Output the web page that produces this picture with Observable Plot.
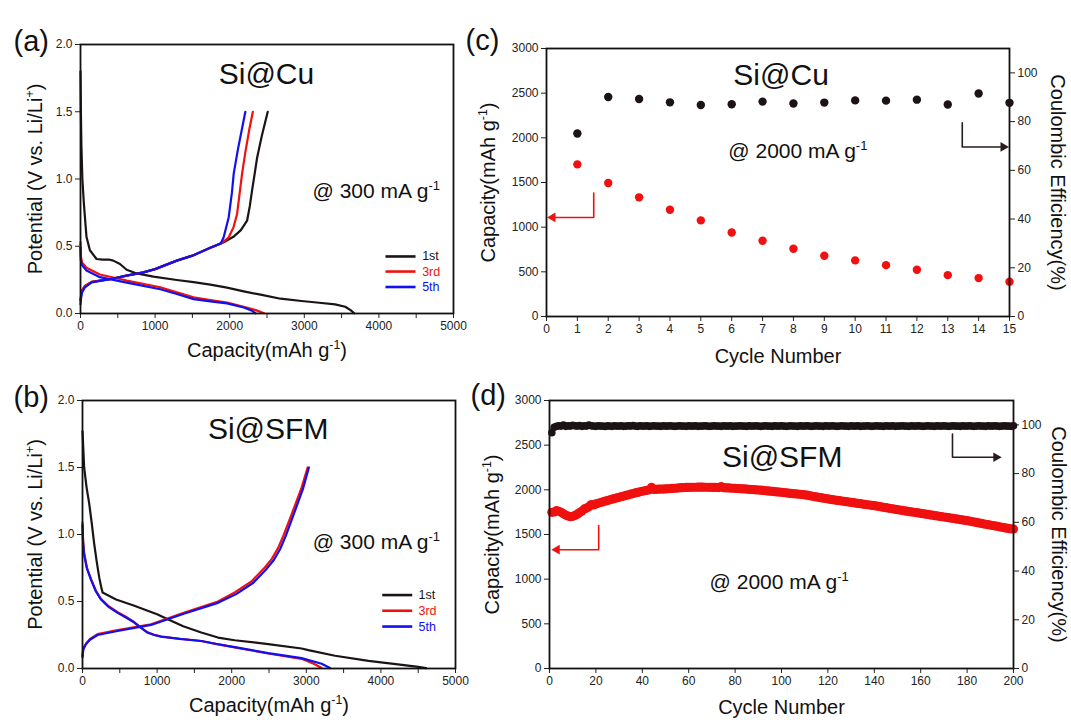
<!DOCTYPE html>
<html><head><meta charset="utf-8">
<script src="https://cdn.jsdelivr.net/npm/d3@7"></script>
<script src="https://cdn.jsdelivr.net/npm/@observablehq/plot@0.6"></script>
<style>
body{margin:0;background:#fff;}
#fig{position:relative;width:1071px;height:724px;overflow:hidden;background:#fff;}
#fig svg{position:absolute;}
</style></head><body><div id="fig"></div>
<script>
// ---------------- DATA ----------------
// (a) Si@Cu galvanostatic profiles [capacity mAh/g, potential V]
const a1Discharge = [[0,1.80],[5,1.5],[12,1.25],[25,1.0],[45,0.82],[80,0.57],[126,0.47],[215,0.405],[300,0.40],[390,0.40],[440,0.393],[529,0.368],[619,0.325],[753,0.298],[978,0.274],[1291,0.249],[1516,0.233],[1740,0.215],[1964,0.192],[2188,0.165],[2413,0.14],[2682,0.11],[2964,0.093],[3200,0.08],[3413,0.068],[3548,0.05],[3620,0.025],[3670,0.002]];
const a1Charge = [[0,0.1],[20,0.17],[60,0.205],[150,0.235],[395,0.255],[600,0.28],[843,0.306],[1000,0.33],[1291,0.393],[1500,0.43],[1740,0.488],[1920,0.53],[2050,0.57],[2150,0.62],[2233,0.69],[2270,0.8],[2300,0.915],[2335,1.04],[2368,1.16],[2430,1.32],[2510,1.5]];
const a3Discharge = [[0,0.53],[4,0.43],[20,0.38],[80,0.34],[260,0.29],[620,0.245],[1070,0.195],[1291,0.157],[1516,0.12],[1740,0.10],[1964,0.082],[2188,0.05],[2350,0.025],[2460,0.002]];
const a3Charge = [[0,0.1],[15,0.165],[60,0.205],[150,0.235],[395,0.255],[600,0.28],[843,0.306],[1000,0.33],[1291,0.393],[1500,0.43],[1740,0.488],[1900,0.525],[1987,0.567],[2050,0.64],[2099,0.74],[2130,0.88],[2166,1.04],[2210,1.2],[2260,1.36],[2310,1.5]];
const a5Discharge = [[0,0.49],[4,0.4],[20,0.36],[80,0.32],[260,0.27],[620,0.23],[1070,0.18],[1291,0.145],[1516,0.107],[1740,0.09],[1964,0.075],[2188,0.045],[2300,0.02],[2345,0.002]];
const a5Charge = [[0,0.07],[15,0.15],[60,0.195],[150,0.232],[395,0.255],[600,0.28],[843,0.306],[1000,0.33],[1291,0.393],[1500,0.43],[1740,0.488],[1880,0.52],[1919,0.567],[1987,0.716],[2030,0.9],[2054,1.04],[2110,1.22],[2160,1.36],[2210,1.5]];

// (b) Si@SFM galvanostatic profiles
const b1Discharge = [[0,1.77],[22,1.5],[55,1.35],[90,1.23],[125,1.08],[157,0.93],[190,0.8],[224,0.68],[250,0.61],[269,0.567],[450,0.515],[695,0.468],[900,0.425],[1000,0.405],[1143,0.368],[1350,0.315],[1592,0.269],[1816,0.231],[2040,0.211],[2489,0.182],[2937,0.149],[3027,0.137],[3386,0.095],[3834,0.057],[4283,0.027],[4500,0.012],[4605,0.003]];
const b3Discharge = [[0,1.09],[8,0.95],[22,0.86],[60,0.75],[112,0.67],[180,0.58],[247,0.52],[350,0.465],[471,0.42],[600,0.38],[695,0.345],[785,0.305],[870,0.27],[960,0.252],[1054,0.239],[1300,0.222],[1592,0.205],[1800,0.182],[2040,0.158],[2489,0.112],[2937,0.072],[3100,0.035],[3200,0.005]];
const b5Discharge = [[0,1.07],[8,0.94],[22,0.85],[60,0.745],[112,0.665],[180,0.575],[247,0.515],[350,0.46],[471,0.415],[600,0.375],[695,0.343],[785,0.303],[870,0.268],[960,0.25],[1054,0.238],[1300,0.221],[1592,0.205],[1800,0.183],[2040,0.16],[2489,0.115],[2937,0.077],[3206,0.035],[3318,0.003]];
const b3Charge = [[0,0.095],[10,0.15],[45,0.185],[100,0.22],[202,0.256],[471,0.286],[919,0.33],[1368,0.418],[1816,0.50],[2040,0.567],[2265,0.65],[2444,0.754],[2540,0.82],[2623,0.9],[2700,1.0],[2803,1.15],[2937,1.35],[3018,1.5]];
const b5Charge = [[0,0.085],[10,0.14],[45,0.18],[100,0.215],[202,0.25],[471,0.28],[919,0.325],[1368,0.41],[1816,0.49],[2060,0.555],[2290,0.64],[2470,0.745],[2565,0.81],[2648,0.89],[2725,0.99],[2825,1.14],[2955,1.34],[3035,1.5]];

// (c) Si@Cu cycling
const cyclesC = [1,2,3,4,5,6,7,8,9,10,11,12,13,14,15];
const capacityC = [1703,1494,1334,1195,1076,941,848,758,680,628,575,523,463,430,389];
const ceC = [75.1,90.1,89.3,87.9,86.8,87.1,88.2,87.4,87.8,88.7,88.6,89.0,87.0,91.5,87.7];

// (d) Si@SFM cycling (cycles 1..200)
const capacityD = [
1748,1752,1767,1760,1748,1733,1718,1707,1700,1703,
1714,1728,1745,1762,1786,1796,1812,1835,1830,1842,
1850,1858,1866,1873,1880,1888,1895,1902,1909,1916,
1923,1930,1937,1944,1951,1958,1965,1971,1978,1984,
1990,1995,2000,2028,2004,2006,2007,2008,2009,2010,
2012,2014,2016,2018,2020,2022,2024,2025,2027,2028,
2028,2029,2029,2030,2030,2030,2029,2029,2028,2028,
2027,2026,2025,2036,2024,2023,2021,2020,2018,2017,
2015,2013,2011,2010,2008,2006,2004,2002,2000,1998,
1996,1993,1990,1988,1985,1983,1980,1977,1975,1972,
1969,1966,1963,1960,1957,1955,1953,1950,1947,1944,
1940,1935,1930,1925,1921,1916,1912,1907,1903,1898,
1894,1890,1886,1882,1879,1875,1871,1867,1863,1860,
1856,1852,1848,1845,1841,1837,1833,1830,1826,1823,
1818,1814,1809,1805,1800,1796,1791,1787,1782,1778,
1774,1770,1765,1761,1757,1753,1749,1745,1741,1737,
1733,1729,1725,1720,1716,1712,1708,1704,1700,1696,
1692,1688,1684,1680,1675,1671,1667,1663,1659,1655,
1650,1645,1640,1635,1630,1625,1620,1615,1610,1605,
1601,1596,1591,1586,1581,1576,1571,1566,1563,1561];
const ceD = [
96.8,99.0,99.4,99.6,99.5,99.9,99.4,99.6,99.5,99.8,
99.6,99.5,99.7,99.4,99.6,99.5,99.9,99.6,99.5,99.4,
99.6,99.5,99.5,99.3,99.6,99.5,99.4,99.6,99.5,99.5,
99.6,99.4,99.5,99.6,99.5,99.7,99.5,99.4,99.6,99.5,
99.5,99.6,99.4,99.5,99.6,99.5,99.5,99.4,99.6,99.5,
99.5,99.6,99.5,99.4,99.5,99.6,99.5,99.5,99.4,99.6,
99.5,99.5,99.6,99.4,99.5,99.5,99.6,99.5,99.4,99.5,
99.6,99.5,99.5,99.4,99.6,99.5,99.5,99.6,99.4,99.5,
99.5,99.6,99.5,99.5,99.4,99.6,99.5,99.5,99.6,99.5,
99.4,99.5,99.6,99.5,99.5,99.4,99.6,99.5,99.5,99.6,
99.5,99.4,99.5,99.6,99.5,99.5,99.4,99.6,99.5,99.5,
99.6,99.5,99.4,99.5,99.6,99.5,99.5,99.4,99.6,99.5,
99.5,99.6,99.5,99.4,99.5,99.6,99.5,99.5,99.4,99.6,
99.5,99.5,99.6,99.4,99.5,99.5,99.6,99.5,99.4,99.5,
99.6,99.5,99.5,99.4,99.6,99.5,99.5,99.6,99.4,99.5,
99.5,99.6,99.5,99.5,99.4,99.6,99.5,99.5,99.6,99.5,
99.4,99.5,99.6,99.5,99.5,99.4,99.6,99.5,99.5,99.6,
99.5,99.4,99.5,99.6,99.5,99.5,99.4,99.6,99.5,99.5,
99.6,99.5,99.4,99.5,99.6,99.5,99.5,99.4,99.6,99.5,
99.5,99.6,99.5,99.4,99.5,99.6,99.5,99.5,99.4,99.6];

// ticks / labels
const capTicks = [0,500,1000,1500,2000,2500,3000,3500,4000,4500,5000];
const potTicks = [0,0.5,1.0,1.5,2.0];
const cycleTicksC = [0,1,2,3,4,5,6,7,8,9,10,11,12,13,14,15];
const cycleTicksD = [0,20,40,60,80,100,120,140,160,180,200];
const capTicksCD = [0,500,1000,1500,2000,2500,3000];
const ceTicks = [0,20,40,60,80,100];
const legendLabels = ["1st","3rd","5th"];
const panelLabels = ["(a)","(b)","(c)","(d)"];

// annotation arrows [x, y]; last point = arrow head
const arrowCRed = [[1.53,1382],[1.53,1109],[0.2,1109]];
const arrowCBlack = [[13.47,79.5],[13.47,69.6],[14.8,69.6]];
const arrowDRed = [[21.2,1599],[21.2,1330],[3.2,1330]];
const arrowDBlack = [[173.7,96.2],[173.7,86.7],[192.5,86.7]];

// ---------------- DRAW ----------------
const FONT = '"Liberation Sans", Arial, Helvetica, sans-serif';
const BLACK = "#1c1414", RED = "#f01010", BLUE = "#1010f0", ARROWK = "#2a1c1c";
const seriesColors = [BLACK, RED, BLUE];
const baseStyle = {fontFamily: FONT, fontSize: "12px", color: "#222", background: "none", overflow: "visible"};
const fig = document.getElementById("fig");
function place(svg, left, top) { svg.style.left = left + "px"; svg.style.top = top + "px"; fig.appendChild(svg); }
const P = d => d[0], V = d => d[1];
const curve = (data, color) => Plot.line(data, {x: P, y: V, stroke: color, strokeWidth: 2.2, strokeLinejoin: "round"});
const txt = (s, o) => Plot.text([s], {text: d => d, fill: "#111", ...o});
const frame = () => Plot.frame({stroke: "#111", strokeWidth: 1.8});
const capFmt = d => d % 1000 === 0 ? String(d) : "";
const plain = d => String(d);
function arrowMarks(pts, color, dir) {
  return [
    Plot.line(pts, {x: P, y: V, stroke: color, strokeWidth: 1.6}),
    Plot.dot([pts[pts.length - 1]], {x: P, y: V, symbol: "triangle", r: 3.6, fill: color, rotate: dir})
  ];
}

function legendMarks(x1, x2, xt, ys) {
  return [
    Plot.link(legendLabels, {x1: x1, x2: x2, y1: (d, i) => ys[i], y2: (d, i) => ys[i], stroke: (d, i) => seriesColors[i], strokeWidth: 2.6}),
    Plot.text(legendLabels, {text: d => d, x: xt, y: (d, i) => ys[i], fill: (d, i) => seriesColors[i], textAnchor: "start", fontSize: 12.5})
  ];
}

// Panel (a)
place(Plot.plot({
  width: 470, height: 370, marginLeft: 80, marginRight: 17, marginTop: 44, marginBottom: 57,
  x: {domain: [0, 5000]}, y: {domain: [0, 2]}, color: {type: "identity"}, style: baseStyle,
  marks: [
    Plot.axisX({ticks: capTicks, tickFormat: capFmt, tickSize: 5, tickPadding: 3, label: null}),
    Plot.axisY({ticks: potTicks, tickFormat: d3.format(".1f"), tickSize: 5, tickPadding: 3, label: null}),
    curve(a1Discharge, BLACK), curve(a1Charge, BLACK),
    curve(a3Discharge, RED), curve(a3Charge, RED),
    curve(a5Discharge, BLUE), curve(a5Charge, BLUE),
    ...legendMarks(4088, 4491, 4580, [0.424, 0.312, 0.197]),
    txt("Si@Cu", {x: 2493, y: 1.777, fontSize: 30}),
    txt("@ 300 mA g⁻¹", {x: 3110, y: 0.907, fontSize: 21, textAnchor: "start"}),
    txt("Potential (V vs. Li/Li⁺)", {frameAnchor: "left", dx: -45, rotate: -90, fontSize: 20, textAnchor: "middle"}),
    txt("Capacity(mAh g⁻¹)", {frameAnchor: "bottom", dy: 43, fontSize: 20, textAnchor: "middle"}),
    txt(panelLabels[0], {frameAnchor: "top-left", dx: -67, dy: -14, fontSize: 29, textAnchor: "start"}),
    frame()
  ]
}), 0, 0);

// Panel (b)
place(Plot.plot({
  width: 470, height: 368, marginLeft: 82, marginRight: 15, marginTop: 44, marginBottom: 56,
  x: {domain: [0, 5000]}, y: {domain: [0, 2]}, color: {type: "identity"}, style: baseStyle,
  marks: [
    Plot.axisX({ticks: capTicks, tickFormat: capFmt, tickSize: 5, tickPadding: 3, label: null}),
    Plot.axisY({ticks: potTicks, tickFormat: d3.format(".1f"), tickSize: 5, tickPadding: 3, label: null}),
    curve(b1Discharge, BLACK),
    curve(b3Discharge, RED), curve(b3Charge, RED),
    curve(b5Discharge, BLUE), curve(b5Charge, BLUE),
    ...legendMarks(4018, 4420, 4504, [0.548, 0.431, 0.313]),
    txt("Si@SFM", {x: 2489, y: 1.783, fontSize: 30}),
    txt("@ 300 mA g⁻¹", {x: 3085, y: 0.939, fontSize: 21, textAnchor: "start"}),
    txt("Potential (V vs. Li/Li⁺)", {frameAnchor: "left", dx: -47, rotate: -90, fontSize: 20, textAnchor: "middle"}),
    txt("Capacity(mAh g⁻¹)", {frameAnchor: "bottom", dy: 43, fontSize: 20, textAnchor: "middle"}),
    txt(panelLabels[1], {frameAnchor: "top-left", dx: -69, dy: -14, fontSize: 29, textAnchor: "start"}),
    frame()
  ]
}), 0, 356);

// Panel (c) – capacity (left axis)
const dimC = {width: 611, height: 370, marginLeft: 86, marginRight: 62, marginTop: 48, marginBottom: 54};
place(Plot.plot({
  ...dimC, x: {domain: [0, 15]}, y: {domain: [0, 3000]}, style: baseStyle,
  marks: [
    Plot.axisX({ticks: cycleTicksC, tickFormat: plain, tickSize: 5, tickPadding: 3, label: null}),
    Plot.axisY({ticks: capTicksCD, tickFormat: plain, tickSize: 5, tickPadding: 3, label: null}),
    Plot.dot(cyclesC, {x: d => d, y: (d, i) => capacityC[i], r: 4.2, fill: RED}),
    ...arrowMarks(arrowCRed, RED, -90),
    txt("Si@Cu", {x: 7.6, y: 2698, fontSize: 30}),
    txt("@ 2000 mA g⁻¹", {x: 5.89, y: 1847, fontSize: 21, textAnchor: "start"}),
    txt("Capacity(mAh g⁻¹)", {frameAnchor: "left", dx: -58, rotate: -90, fontSize: 20, textAnchor: "middle"}),
    txt("Cycle Number", {frameAnchor: "bottom", dy: 46, fontSize: 20, textAnchor: "middle"}),
    txt(panelLabels[2], {frameAnchor: "top-left", dx: -81, dy: -19, fontSize: 29, textAnchor: "start"}),
    frame()
  ]
}), 460, 0);
// Panel (c) – coulombic efficiency (right axis)
place(Plot.plot({
  ...dimC, x: {domain: [0, 15], axis: null}, y: {domain: [0, 110]}, style: baseStyle,
  marks: [
    Plot.axisY({anchor: "right", ticks: ceTicks, tickFormat: plain, tickSize: 5, tickPadding: 3, label: null}),
    Plot.dot(cyclesC, {x: d => d, y: (d, i) => ceC[i], r: 4.2, fill: BLACK}),
    ...arrowMarks(arrowCBlack, ARROWK, 90),
    txt("Coulombic Efficiency(%)", {frameAnchor: "right", dx: 48, rotate: 90, fontSize: 20, textAnchor: "middle"})
  ]
}), 460, 0);

// Panel (d) – capacity
const cyclesD = capacityD.map((_, i) => i + 1);
const dimD = {width: 611, height: 368, marginLeft: 89, marginRight: 58, marginTop: 44, marginBottom: 56};
place(Plot.plot({
  ...dimD, x: {domain: [0, 200]}, y: {domain: [0, 3000]}, style: baseStyle,
  marks: [
    Plot.axisX({ticks: cycleTicksD, tickFormat: plain, tickSize: 5, tickPadding: 3, label: null}),
    Plot.axisY({ticks: capTicksCD, tickFormat: plain, tickSize: 5, tickPadding: 3, label: null}),
    Plot.dot(cyclesD, {x: d => d, y: (d, i) => capacityD[i], r: 4.6, fill: RED}),
    ...arrowMarks(arrowDRed, RED, -90),
    txt("Si@SFM", {x: 100.3, y: 2361, fontSize: 30}),
    txt("@ 2000 mA g⁻¹", {x: 69, y: 960, fontSize: 21, textAnchor: "start"}),
    txt("Capacity(mAh g⁻¹)", {frameAnchor: "left", dx: -57, rotate: -90, fontSize: 20, textAnchor: "middle"}),
    txt("Cycle Number", {frameAnchor: "bottom", dy: 45, fontSize: 20, textAnchor: "middle"}),
    txt(panelLabels[3], {frameAnchor: "top-left", dx: -79, dy: -16, fontSize: 29, textAnchor: "start"}),
    frame()
  ]
}), 460, 356);
// Panel (d) – coulombic efficiency
place(Plot.plot({
  ...dimD, x: {domain: [0, 200], axis: null}, y: {domain: [0, 110]}, style: baseStyle,
  marks: [
    Plot.axisY({anchor: "right", ticks: ceTicks, tickFormat: plain, tickSize: 5, tickPadding: 3, label: null}),
    Plot.dot(cyclesD, {x: d => d, y: (d, i) => ceD[i], r: 3.8, fill: BLACK}),
    ...arrowMarks(arrowDBlack, ARROWK, 90),
    txt("Coulombic Efficiency(%)", {frameAnchor: "right", dx: 45, rotate: 90, fontSize: 20, textAnchor: "middle"})
  ]
}), 460, 356);

// superscripts: turn ⁻¹ / ⁺ into raised tspans
const supMap = {"⁻": "-", "¹": "1", "⁺": "+"};
fig.querySelectorAll("text").forEach(t => {
  if (t.querySelector("tspan")) return;
  const s = t.textContent;
  const m = s.match(/^(.*?)([⁻¹⁺]+)(.*)$/);
  if (!m) return;
  const fs = parseFloat(getComputedStyle(t).fontSize) || 16;
  const up = fs * 0.38;
  const ns = "http://www.w3.org/2000/svg";
  t.textContent = "";
  t.appendChild(document.createTextNode(m[1]));
  const sup = document.createElementNS(ns, "tspan");
  sup.setAttribute("dy", -up);
  sup.setAttribute("font-size", fs * 0.62);
  sup.textContent = [...m[2]].map(c => supMap[c]).join("");
  t.appendChild(sup);
  if (m[3]) {
    const rest = document.createElementNS(ns, "tspan");
    rest.setAttribute("dy", up);
    rest.textContent = m[3];
    t.appendChild(rest);
  }
});
</script></body></html>
